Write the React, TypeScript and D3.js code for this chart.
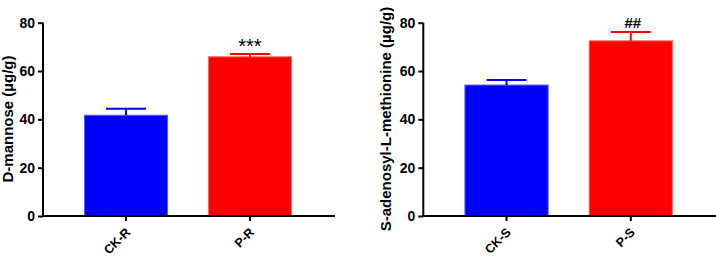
import { useEffect, useRef } from "react";
import * as d3 from "d3";

// left panel
const categoriesR = ["CK-R", "P-R"];
const meansR = [41.7, 65.9];
const errorsR = [2.7, 1.1];
const marksR = ["", "***"];

// right panel
const categoriesS = ["CK-S", "P-S"];
const meansS = [54.2, 72.5];
const errorsS = [2.1, 3.6];
const marksS = ["", "##"];

const yTicks = [0, 20, 40, 60, 80];
const colors = ["#0000ff", "#ff0000"];
const lightColors = ["#5a5aff", "#ff6a6a"];

const FONT = "Liberation Sans, Arial, Helvetica, sans-serif";

function drawPanel(svg, opts) {
  const { left, right, label, labelX, categories, means, errors, marks, markStyle } = opts;

  const y = d3.scaleLinear().domain([0, 80]).range([216, 22.7]);
  const x = d3
    .scaleBand()
    .domain(categories)
    .range([left, right])
    .paddingInner(0.33)
    .paddingOuter(0.335);

  const g = svg.append("g");

  // bars
  g.selectAll("rect.bar")
    .data(categories)
    .join("rect")
    .attr("class", "bar")
    .attr("x", (d) => x(d))
    .attr("width", x.bandwidth())
    .attr("y", (d, i) => y(means[i]))
    .attr("height", (d, i) => y(0) - y(means[i]))
    .attr("fill", (d, i) => colors[i])
    .attr("stroke", (d, i) => lightColors[i])
    .attr("stroke-width", 1);

  // error bars, upward only
  categories.forEach((c, i) => {
    const cx = x(c) + x.bandwidth() / 2;
    const top = y(means[i] + errors[i]);
    g.append("line")
      .attr("x1", cx)
      .attr("x2", cx)
      .attr("y1", y(means[i]))
      .attr("y2", top)
      .attr("stroke", colors[i])
      .attr("stroke-width", 2);
    g.append("line")
      .attr("x1", cx - 20)
      .attr("x2", cx + 20)
      .attr("y1", top)
      .attr("y2", top)
      .attr("stroke", colors[i])
      .attr("stroke-width", 2);
    if (marks[i]) {
      g.append("text")
        .attr("x", cx + markStyle.dx)
        .attr("y", markStyle.y)
        .attr("text-anchor", "middle")
        .attr("font-family", FONT)
        .attr("font-size", markStyle.size)
        .attr("font-weight", markStyle.weight)
        .attr("fill", "#000")
        .text(marks[i]);
    }
  });

  // y axis
  const ya = g
    .append("g")
    .attr("transform", `translate(${left},0)`)
    .call(d3.axisLeft(y).tickValues(yTicks).tickSize(5).tickPadding(3).tickSizeOuter(0));
  ya.select(".domain").attr("stroke-width", 2).attr("d", `M0,${y(80)}V${y(0) + 1}`);
  ya.selectAll(".tick line").attr("stroke-width", 2);
  ya.selectAll(".tick text")
    .attr("font-family", FONT)
    .attr("font-size", 14)
    .attr("font-weight", "bold")
    .attr("fill", "#000");

  // x axis (labels drawn separately, rotated)
  const xa = g
    .append("g")
    .attr("transform", `translate(0,${y(0)})`)
    .call(d3.axisBottom(x).tickSize(5).tickSizeOuter(0).tickFormat(() => ""));
  xa.select(".domain").attr("stroke-width", 2).attr("d", `M${left - 1},0H${right + 2}`);
  xa.selectAll(".tick line").attr("stroke-width", 2);

  g.selectAll("text.xlab")
    .data(categories)
    .join("text")
    .attr("class", "xlab")
    .attr(
      "transform",
      (d) => `translate(${x(d) + x.bandwidth() / 2 + 5},${y(0) + 17}) rotate(-45)`
    )
    .attr("text-anchor", "end")
    .attr("font-family", FONT)
    .attr("font-size", 12.5)
    .attr("font-weight", "bold")
    .attr("fill", "#000")
    .text((d) => d);

  // y label
  g.append("text")
    .attr("transform", `translate(${labelX},119) rotate(-90)`)
    .attr("text-anchor", "middle")
    .attr("font-family", FONT)
    .attr("font-size", 15)
    .attr("font-weight", "bold")
    .attr("fill", "#000")
    .text(label);
}

export default function App() {
  const ref = useRef(null);

  useEffect(() => {
    const svg = d3.select(ref.current);
    svg.selectAll("*").remove();

    drawPanel(svg, {
      left: 43,
      right: 333,
      label: "D-mannose (µg/g)",
      labelX: 13,
      categories: categoriesR,
      means: meansR,
      errors: errorsR,
      marks: marksR,
      markStyle: { y: 53, size: 20, weight: "normal", dx: 0 },
    });

    drawPanel(svg, {
      left: 423.3,
      right: 714,
      label: "S-adenosyl-L-methionine (µg/g)",
      labelX: 391,
      categories: categoriesS,
      means: meansS,
      errors: errorsS,
      marks: marksS,
      markStyle: { y: 27.5, size: 15, weight: "bold", dx: 2 },
    });
  }, []);

  return (
    <svg
      ref={ref}
      width={716}
      height={258}
      style={{ position: "absolute", left: 0, top: 0, background: "#fff" }}
    />
  );
}
